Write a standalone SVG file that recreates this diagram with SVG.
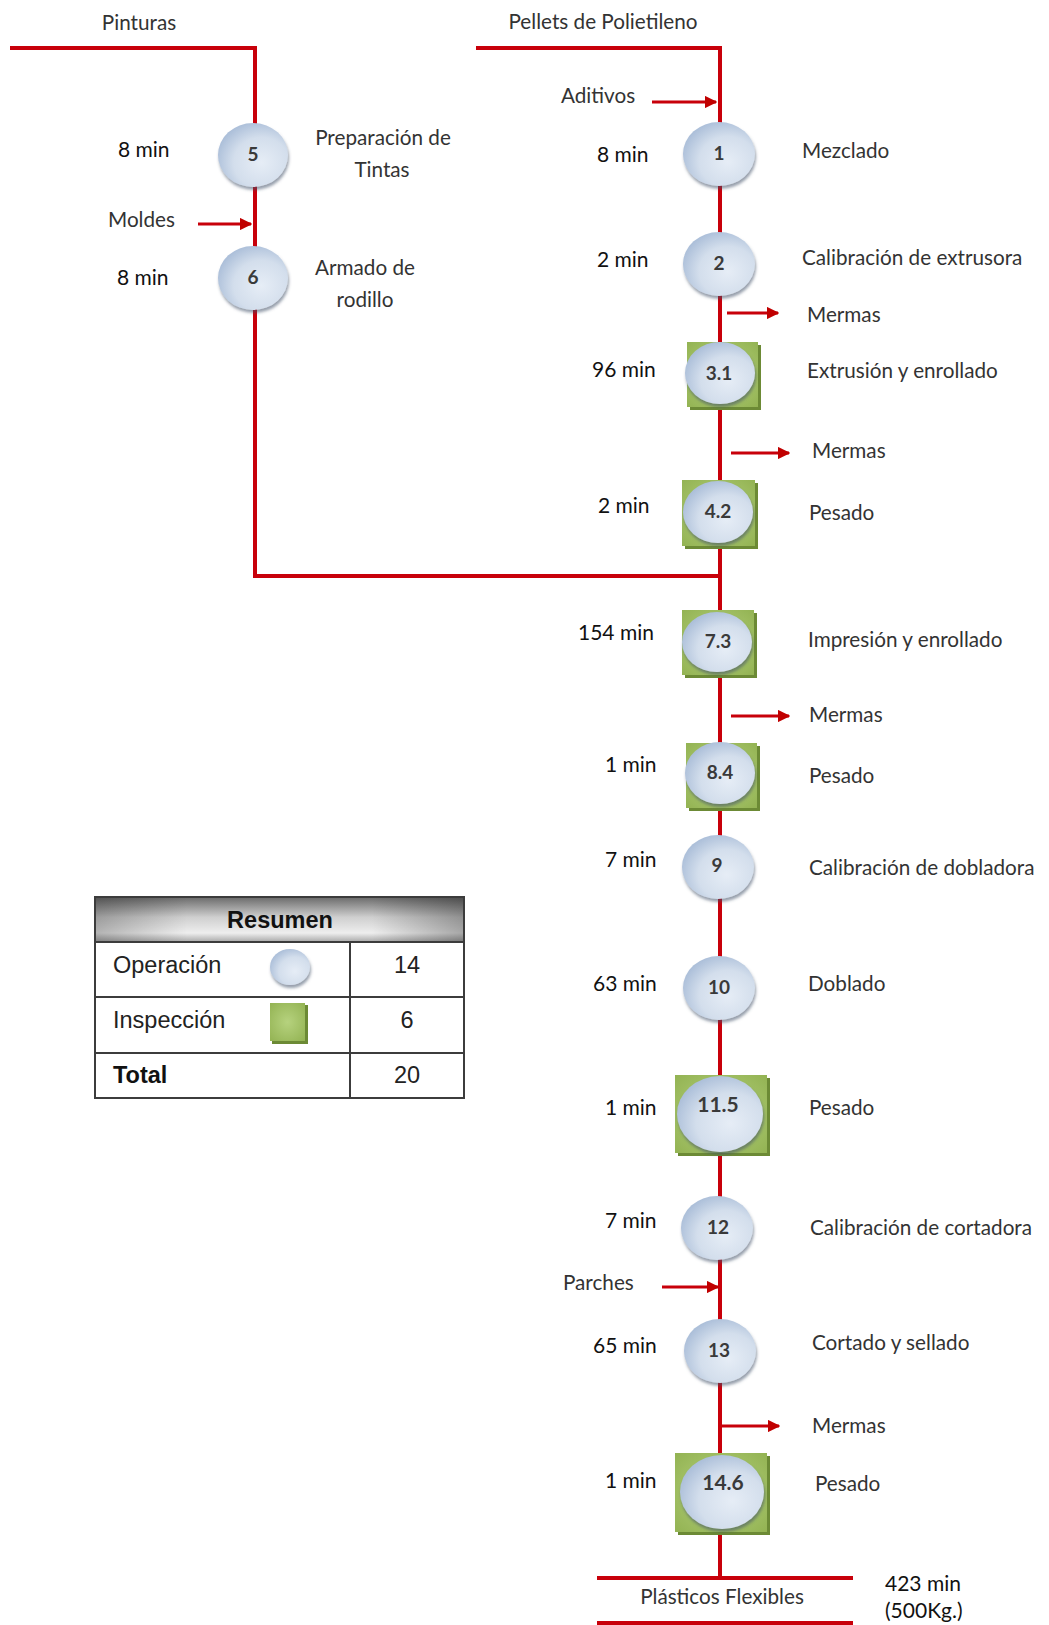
<svg xmlns="http://www.w3.org/2000/svg" width="1049" height="1625" viewBox="0 0 1049 1625">
  <defs>
    <radialGradient id="opFill" cx="62%" cy="62%" r="72%">
      <stop offset="0" stop-color="#e6edf6"/>
      <stop offset="0.55" stop-color="#d3deec"/>
      <stop offset="1" stop-color="#a3b8d5"/>
    </radialGradient>
    <radialGradient id="inFill" cx="50%" cy="50%" r="70%">
      <stop offset="0" stop-color="#b6d27e"/>
      <stop offset="1" stop-color="#93b353"/>
    </radialGradient>
    <linearGradient id="headFill" x1="0" y1="0" x2="0" y2="1">
      <stop offset="0" stop-color="#6a6a6a"/>
      <stop offset="0.45" stop-color="#cfcfcf"/>
      <stop offset="0.8" stop-color="#eeeeee"/>
      <stop offset="1" stop-color="#a8a8a8"/>
    </linearGradient>
    <linearGradient id="headSide" x1="0" y1="0" x2="1" y2="0">
      <stop offset="0" stop-color="#000" stop-opacity="0.25"/>
      <stop offset="0.25" stop-color="#000" stop-opacity="0"/>
      <stop offset="0.75" stop-color="#000" stop-opacity="0"/>
      <stop offset="1" stop-color="#000" stop-opacity="0.3"/>
    </linearGradient>
    <filter id="shade" x="-20%" y="-20%" width="150%" height="150%">
      <feDropShadow dx="1" dy="3" stdDeviation="1.6" flood-color="#3d4f66" flood-opacity="0.55"/>
    </filter>
    <marker id="arrow" viewBox="0 0 10 10" refX="9" refY="5" markerWidth="4.2" markerHeight="4.2" orient="auto" markerUnits="strokeWidth">
      <path d="M0,0 L10,5 L0,10 z" fill="#c00000"/>
    </marker>
    <style>
      .flow { fill: none; stroke: #c8000a; stroke-width: 4; }
      .side { fill: none; stroke: #c8000a; stroke-width: 3; marker-end: url(#arrow); }
      .op { fill: url(#opFill); filter: url(#shade); }
      .insp { fill: url(#inFill); }
      .inspShadow { fill: #6c8a35; }
      .num { font-family: Lato, "Liberation Sans", sans-serif; font-weight: bold; font-size: 19px; fill: #3a3a3a; text-anchor: middle; }
      .numL { font-family: Lato, "Liberation Sans", sans-serif; font-weight: bold; font-size: 21px; fill: #3a3a3a; text-anchor: middle; }
      .lbl { font-family: Lato, "Liberation Sans", sans-serif; font-size: 20.7px; fill: #333; }
      .time { font-family: Lato, "Liberation Sans", sans-serif; font-size: 21px; fill: #111; }
      .mid { text-anchor: middle; }
      .tbl { font-family: "Liberation Sans", Arial, sans-serif; font-size: 23.5px; fill: #222; }
      .tblB { font-family: "Liberation Sans", Arial, sans-serif; font-size: 23.5px; font-weight: bold; fill: #111; }
      .grid { fill: none; stroke: #3c3c3c; stroke-width: 2; }
    </style>
  </defs>

  <rect width="1049" height="1625" fill="#fff"/>

  <!-- flow lines and side arrows -->
  <g id="connectors">
    <polyline class="flow" points="10,48 255,48 255,576 720,576"/>
    <polyline class="flow" points="476,48 720,48 720,1578"/>
    <line class="flow" x1="597" y1="1578" x2="853" y2="1578"/>
    <line class="flow" x1="597" y1="1623" x2="853" y2="1623"/>
    <line class="side" x1="652" y1="102" x2="716" y2="102"/>
    <line class="side" x1="198" y1="224" x2="251" y2="224"/>
    <line class="side" x1="727" y1="313" x2="778" y2="313"/>
    <line class="side" x1="731" y1="453" x2="789" y2="453"/>
    <line class="side" x1="731" y1="716" x2="789" y2="716"/>
    <line class="side" x1="662" y1="1287" x2="718" y2="1287"/>
    <line class="side" x1="720" y1="1426" x2="779" y2="1426"/>
  </g>

  <!-- input / output captions -->
  <g id="captions">
    <text class="lbl mid" x="139" y="30">Pinturas</text>
    <text class="lbl mid" x="603" y="29">Pellets de Polietileno</text>
    <text class="lbl" x="561" y="103">Aditivos</text>
    <text class="lbl" x="108" y="227">Moldes</text>
    <text class="lbl" x="563" y="1290">Parches</text>
    <text class="lbl" x="807" y="322">Mermas</text>
    <text class="lbl" x="812" y="458">Mermas</text>
    <text class="lbl" x="809" y="722">Mermas</text>
    <text class="lbl" x="812" y="1433">Mermas</text>
    <text class="lbl mid" x="722" y="1604">Plásticos Flexibles</text>
    <text class="time" x="885" y="1591">423 min</text>
    <text class="time" x="885" y="1618">(500Kg.)</text>
  </g>

  <!-- operations: left branch -->
  <g id="node-5">
    <ellipse class="op" cx="253" cy="155" rx="35" ry="32"/>
    <text class="num" x="253" y="161">5</text>
    <text class="time" x="118" y="157">8 min</text>
    <text class="lbl mid" x="383" y="145">Preparación de</text>
    <text class="lbl mid" x="382" y="177">Tintas</text>
  </g>
  <g id="node-6">
    <ellipse class="op" cx="253" cy="278" rx="35" ry="32"/>
    <text class="num" x="253" y="284">6</text>
    <text class="time" x="117" y="285">8 min</text>
    <text class="lbl mid" x="365" y="275">Armado de</text>
    <text class="lbl mid" x="365" y="307">rodillo</text>
  </g>

  <!-- main line -->
  <g id="node-1">
    <ellipse class="op" cx="719" cy="154" rx="36" ry="32"/>
    <text class="num" x="719" y="160">1</text>
    <text class="time" x="597" y="162">8 min</text>
    <text class="lbl" x="802" y="158">Mezclado</text>
  </g>
  <g id="node-2">
    <ellipse class="op" cx="719" cy="264" rx="36" ry="32"/>
    <text class="num" x="719" y="270">2</text>
    <text class="time" x="597" y="267">2 min</text>
    <text class="lbl" x="802" y="265">Calibración de extrusora</text>
  </g>
  <g id="node-3-1">
    <rect class="inspShadow" x="690" y="345" width="71" height="65"/>
    <rect class="insp" x="687" y="342" width="71" height="65"/>
    <ellipse class="op" cx="720" cy="373" rx="35" ry="31"/>
    <text class="num" x="719" y="380">3.1</text>
    <text class="time" x="592" y="377">96 min</text>
    <text class="lbl" x="807" y="378">Extrusión y enrollado</text>
  </g>
  <g id="node-4-2">
    <rect class="inspShadow" x="685" y="483" width="73" height="66"/>
    <rect class="insp" x="682" y="480" width="73" height="66"/>
    <ellipse class="op" cx="718" cy="512" rx="35" ry="31"/>
    <text class="num" x="718" y="518">4.2</text>
    <text class="time" x="598" y="513">2 min</text>
    <text class="lbl" x="809" y="520">Pesado</text>
  </g>
  <g id="node-7-3">
    <rect class="inspShadow" x="685" y="613" width="72" height="65"/>
    <rect class="insp" x="682" y="610" width="72" height="65"/>
    <ellipse class="op" cx="717" cy="642" rx="35" ry="30"/>
    <text class="num" x="718" y="648">7.3</text>
    <text class="time" x="578" y="640">154 min</text>
    <text class="lbl" x="808" y="647">Impresión y enrollado</text>
  </g>
  <g id="node-8-4">
    <rect class="inspShadow" x="689" y="746" width="71" height="65"/>
    <rect class="insp" x="686" y="743" width="71" height="65"/>
    <ellipse class="op" cx="720" cy="773" rx="35" ry="31"/>
    <text class="num" x="720" y="779">8.4</text>
    <text class="time" x="605" y="772">1 min</text>
    <text class="lbl" x="809" y="783">Pesado</text>
  </g>
  <g id="node-9">
    <ellipse class="op" cx="718" cy="867" rx="36" ry="32"/>
    <text class="num" x="717" y="872">9</text>
    <text class="time" x="605" y="867">7 min</text>
    <text class="lbl" x="809" y="875">Calibración de dobladora</text>
  </g>
  <g id="node-10">
    <ellipse class="op" cx="719" cy="988" rx="36" ry="32"/>
    <text class="num" x="719" y="994">10</text>
    <text class="time" x="593" y="991">63 min</text>
    <text class="lbl" x="808" y="991">Doblado</text>
  </g>
  <g id="node-11-5">
    <rect class="inspShadow" x="678" y="1078" width="92" height="78"/>
    <rect class="insp" x="675" y="1075" width="92" height="78"/>
    <ellipse class="op" cx="720" cy="1114" rx="43" ry="38"/>
    <text class="numL" x="718" y="1112">11.5</text>
    <text class="time" x="605" y="1115">1 min</text>
    <text class="lbl" x="809" y="1115">Pesado</text>
  </g>
  <g id="node-12">
    <ellipse class="op" cx="717" cy="1228" rx="36" ry="32"/>
    <text class="num" x="718" y="1234">12</text>
    <text class="time" x="605" y="1228">7 min</text>
    <text class="lbl" x="810" y="1235">Calibración de cortadora</text>
  </g>
  <g id="node-13">
    <ellipse class="op" cx="720" cy="1351" rx="36" ry="32"/>
    <text class="num" x="719" y="1357">13</text>
    <text class="time" x="593" y="1353">65 min</text>
    <text class="lbl" x="812" y="1350">Cortado y sellado</text>
  </g>
  <g id="node-14-6">
    <rect class="inspShadow" x="678" y="1456" width="92" height="79"/>
    <rect class="insp" x="675" y="1453" width="92" height="79"/>
    <ellipse class="op" cx="722" cy="1492" rx="42" ry="37"/>
    <text class="numL" x="723" y="1490">14.6</text>
    <text class="time" x="605" y="1488">1 min</text>
    <text class="lbl" x="815" y="1491">Pesado</text>
  </g>

  <!-- summary table -->
  <g id="summary">
    <rect x="95" y="897" width="369" height="45" fill="url(#headFill)"/>
    <rect x="95" y="897" width="369" height="45" fill="url(#headSide)"/>
    <rect class="grid" x="95" y="897" width="369" height="201" stroke="#555"/>
    <line class="grid" x1="95" y1="942" x2="464" y2="942"/>
    <line class="grid" x1="95" y1="997" x2="464" y2="997"/>
    <line class="grid" x1="95" y1="1053" x2="464" y2="1053"/>
    <line class="grid" x1="350" y1="942" x2="350" y2="1098"/>
    <text class="tblB" x="280" y="928" text-anchor="middle">Resumen</text>
    <text class="tbl" x="113" y="973">Operación</text>
    <ellipse class="op" cx="290" cy="967" rx="20" ry="18"/>
    <text class="tbl" x="407" y="973" text-anchor="middle">14</text>
    <text class="tbl" x="113" y="1028">Inspección</text>
    <rect class="inspShadow" x="272" y="1005" width="36" height="39"/>
    <rect class="insp" x="270" y="1003" width="35" height="38"/>
    <text class="tbl" x="407" y="1028" text-anchor="middle">6</text>
    <text class="tblB" x="113" y="1083">Total</text>
    <text class="tbl" x="407" y="1083" text-anchor="middle">20</text>
  </g>
</svg>
